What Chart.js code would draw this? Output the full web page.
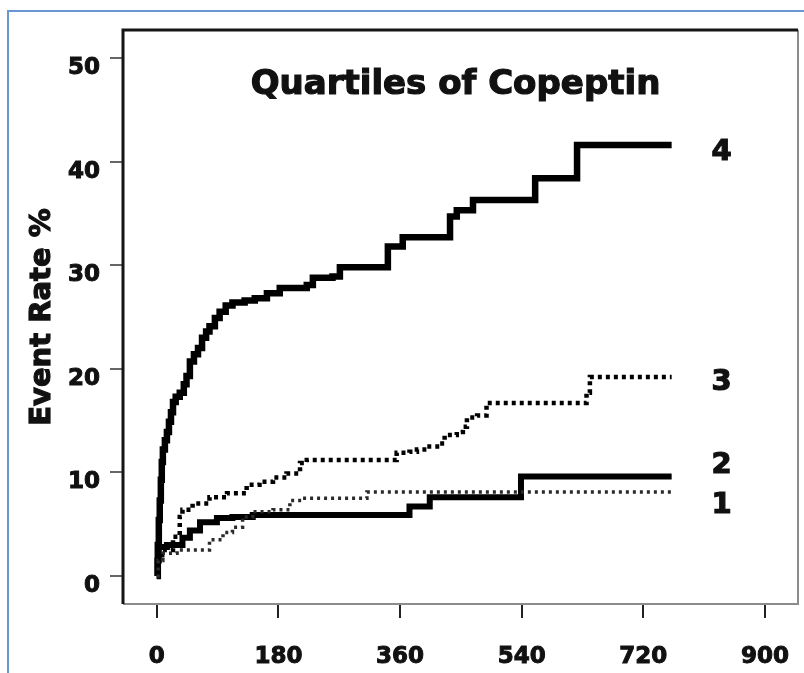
<!DOCTYPE html>
<html>
<head>
<meta charset="utf-8">
<script src="https://cdn.jsdelivr.net/npm/chart.js@4"></script>
<style>
  html, body { margin: 0; padding: 0; background: #fff; }
  #wrap { position: relative; width: 804px; height: 673px; overflow: hidden; }
  #frame { position: absolute; left: 7px; top: 10px; width: 1000px; height: 1000px;
           border-left: 2px solid #6a96d4; border-top: 2px solid #6a96d4; }
  canvas { position: absolute; left: 0; top: 0; }
</style>
</head>
<body>
<div id="wrap"><div id="frame"></div><canvas id="km" width="804" height="673"></canvas></div>
<script>
// axis ticks
var xTicks = [0, 180, 360, 540, 720, 900];
var yTicks = [0, 10, 20, 30, 40, 50];

// Kaplan-Meier style event rates (%) by copeptin quartile, days since admission
var q1Days = [0, 2, 9, 30, 64, 78, 98, 112, 127, 142, 172, 197, 216, 311, 762];
var q1Rate = [0, 1.5, 2.2, 2.5, 2.5, 3.5, 4.2, 4.7, 5.7, 6.2, 6.4, 7.3, 7.5, 8.1, 8.1];

var q2Days = [0, 1, 3, 15, 38, 49, 64, 89, 112, 142, 374, 404, 539, 762];
var q2Rate = [0, 1.5, 2.8, 3.0, 3.7, 4.4, 5.2, 5.6, 5.7, 5.9, 6.7, 7.6, 9.6, 9.6];

var q3Days = [0, 2, 8, 24, 34, 38, 53, 78, 104, 133, 152, 172, 192, 212, 222, 355, 374, 385, 400, 419, 426, 444, 453, 459, 474, 488, 636, 641, 762];
var q3Rate = [0, 1.5, 2.5, 3.8, 5.7, 6.4, 7.0, 7.6, 8.0, 8.8, 9.1, 9.5, 9.9, 10.9, 11.2, 11.9, 12.0, 12.2, 12.5, 12.8, 13.6, 13.9, 14.4, 15.3, 15.5, 16.7, 17.7, 19.2, 19.2];

var q4Days = [0, 1.5, 3, 4.4, 6, 7.4, 9, 12, 15, 18, 21, 24, 28, 34, 40, 44, 49, 55, 61, 67, 73, 78, 86, 93, 102, 112, 130, 145, 163, 182, 222, 231, 260, 271, 342, 364, 434, 444, 468, 560, 622, 762];
var q4Rate = [0, 3.0, 5.4, 7.3, 9.3, 11.0, 12.2, 13.1, 13.9, 14.9, 15.8, 16.8, 17.3, 17.7, 18.5, 19.3, 20.7, 21.4, 22.0, 23.0, 23.6, 24.1, 24.9, 25.5, 26.1, 26.4, 26.6, 26.8, 27.3, 27.8, 28.1, 28.8, 28.9, 29.8, 31.8, 32.7, 34.7, 35.3, 36.3, 38.4, 41.6, 41.6];

var quartileNames = ["1", "2", "3", "4"];

// curve end labels sit a little right of the curves
var labelDay = 836;
var labelShift = [13, -11, 5, 7];

var fontFamily = "'DejaVu Sans', sans-serif";

function toPoints(days, rate) {
  return days.map(function (d, i) { return { x: d, y: rate[i] }; });
}

function boldText(ctx, text, x, y) {
  ctx.fillText(text, x, y);
  ctx.strokeText(text, x, y);
}

var boxAndLabels = {
  id: "boxAndLabels",
  afterDraw: function (chart) {
    var ctx = chart.ctx, a = chart.chartArea;
    var xs = chart.scales.x, ys = chart.scales.y;
    ctx.save();
    // plot frame: light right/bottom, dark left/top
    ctx.lineWidth = 2;
    ctx.strokeStyle = "#8c8c8c";
    ctx.beginPath();
    ctx.moveTo(a.left, a.bottom);
    ctx.lineTo(a.right, a.bottom);
    ctx.lineTo(a.right, a.top);
    ctx.stroke();
    ctx.strokeStyle = "#151515";
    ctx.lineWidth = 3;
    ctx.beginPath();
    ctx.moveTo(a.left, a.bottom);
    ctx.lineTo(a.left, a.top);
    ctx.lineTo(a.right, a.top);
    ctx.stroke();

    ctx.fillStyle = "#111";
    ctx.strokeStyle = "#111";
    ctx.lineWidth = 1.2;
    ctx.textAlign = "center";
    ctx.font = "bold 34px " + fontFamily;
    ctx.textBaseline = "alphabetic";
    boldText(ctx, "Quartiles of Copeptin", (a.left + a.right) / 2 - 5, a.top + 64);

    ctx.font = "bold 29px " + fontFamily;
    ctx.textBaseline = "middle";
    chart.data.datasets.forEach(function (ds, i) {
      var last = ds.data[ds.data.length - 1];
      boldText(ctx, ds.label, xs.getPixelForValue(labelDay), ys.getPixelForValue(last.y) + labelShift[i]);
    });

    // vertical axis title
    ctx.save();
    ctx.translate(42, (a.top + a.bottom) / 2);
    ctx.rotate(-Math.PI / 2);
    ctx.font = "bold 29px " + fontFamily;
    boldText(ctx, "Event Rate %", 0, 0);
    ctx.restore();

    ctx.restore();
  }
};

new Chart(document.getElementById("km"), {
  type: "line",
  data: {
    datasets: [
      {
        label: quartileNames[0],
        data: toPoints(q1Days, q1Rate),
        borderColor: "#2a2a2a",
        borderWidth: 3.5,
        borderDash: [3, 4],
        stepped: true,
        pointRadius: 0,
        fill: false,
      },
      {
        label: quartileNames[1],
        data: toPoints(q2Days, q2Rate),
        borderColor: "#000",
        borderWidth: 6,
        stepped: true,
        pointRadius: 0,
        fill: false,
      },
      {
        label: quartileNames[2],
        data: toPoints(q3Days, q3Rate),
        borderColor: "#000",
        borderWidth: 4.5,
        borderDash: [4, 4],
        stepped: true,
        pointRadius: 0,
        fill: false,
      },
      {
        label: quartileNames[3],
        data: toPoints(q4Days, q4Rate),
        borderColor: "#000",
        borderWidth: 6.5,
        stepped: true,
        pointRadius: 0,
        fill: false,
      },
    ],
  },
  options: {
    responsive: false,
    animation: false,
    devicePixelRatio: 1,
    layout: { padding: { left: 0, top: 30, right: 6, bottom: 0 } },
    plugins: {
      legend: { display: false },
      title: { display: false },
      tooltip: { enabled: false },
    },
    scales: {
      x: {
        type: "linear",
        min: -50,
        max: 949,
        afterBuildTicks: function (scale) {
          scale.ticks = xTicks.map(function (v) { return { value: v }; });
        },
        afterFit: function (scale) {
          scale.height = 69;
          scale.paddingLeft = 0;
          scale.paddingRight = 0;
        },
        border: { display: false },
        grid: { drawOnChartArea: false, drawTicks: true, tickLength: 14, color: "#222", lineWidth: 2 },
        ticks: {
          color: "#111", padding: 25, maxRotation: 0,
          textStrokeColor: "#111", textStrokeWidth: 1,
          font: { family: fontFamily, size: 23, weight: "bold" },
        },
      },
      y: {
        type: "linear",
        min: -2.7,
        max: 52.7,
        afterBuildTicks: function (scale) {
          scale.ticks = yTicks.map(function (v) { return { value: v }; });
        },
        afterFit: function (scale) {
          scale.width = 123;
          scale.paddingTop = 0;
          scale.paddingBottom = 0;
        },
        border: { display: false },
        grid: { drawOnChartArea: false, drawTicks: true, tickLength: 13, color: "#666", lineWidth: 2 },
        ticks: {
          color: "#111", padding: 10, labelOffset: 10,
          textStrokeColor: "#111", textStrokeWidth: 1,
          font: { family: fontFamily, size: 23, weight: "bold" },
        },
      },
    },
  },
  plugins: [boxAndLabels],
});
</script>
</body>
</html>
